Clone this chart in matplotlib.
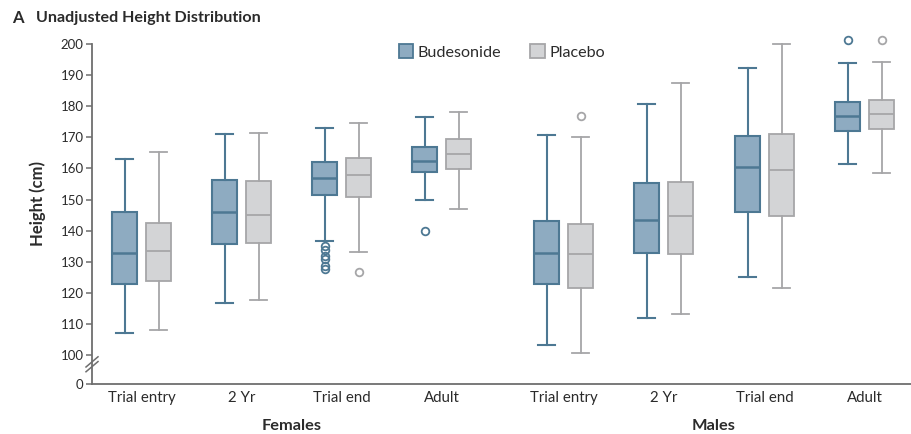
import numpy as np
import matplotlib
matplotlib.use("Agg")
import matplotlib.pyplot as plt
from matplotlib.patches import Patch

plt.rcParams['font.family'] = ['Lato', 'DejaVu Sans']

# Groups (x tick labels) and sexes
visits = ["Trial entry", "2 Yr", "Trial end", "Adult"]
sexes = ["Females", "Males"]

# Budesonide box stats, per visit (females then males)
bud_lo = [107.0, 116.7, 136.8, 149.8, 103.3, 111.9, 125.2, 161.3]
bud_q1 = [122.9, 135.8, 151.4, 158.7, 122.8, 132.9, 146.1, 172.0]
bud_med = [132.9, 146.1, 156.8, 162.5, 132.9, 143.5, 160.3, 177.0]
bud_q3 = [146.0, 156.4, 162.2, 166.8, 143.1, 155.4, 170.4, 181.2]
bud_hi = [163.0, 171.0, 172.9, 176.5, 170.7, 180.7, 192.2, 194.0]
bud_fliers = [[], [], [135.1, 133.7, 131.8, 130.8, 128.7, 127.6], [139.9],
              [], [], [], [201.3]]

# Placebo box stats
pla_lo = [108.0, 117.6, 133.0, 147.0, 100.5, 113.1, 121.5, 158.4]
pla_q1 = [123.7, 136.0, 150.7, 159.8, 121.4, 132.4, 144.8, 172.6]
pla_med = [133.3, 145.0, 157.9, 164.5, 132.4, 144.6, 159.5, 177.5]
pla_q3 = [142.3, 156.0, 163.5, 169.5, 142.0, 155.6, 171.2, 181.9]
pla_hi = [165.4, 171.4, 174.7, 178.0, 170.2, 187.6, 199.9, 194.1]
pla_fliers = [[], [], [126.6], [], [176.8], [], [], [201.3]]

BUD_FACE = "#8eabc1"
BUD_EDGE = "#4d7893"
PLA_FACE = "#d3d4d6"
PLA_EDGE = "#a6a6a8"
AXIS_COL = "#6e6e6e"
TEXT_COL = "#2b2b2b"

# broken y axis: 0-100 squeezed into a short stretch
SQUEEZE = 0.0932


def fwd(v):
    v = np.asarray(v, dtype=float)
    return np.where(v >= 100, v, 100 - (100 - v) * SQUEEZE)


def inv(u):
    u = np.asarray(u, dtype=float)
    return np.where(u >= 100, u, 100 - (100 - u) / SQUEEZE)


def make_stats(lo, q1, med, q3, hi, fl):
    return [dict(whislo=a, q1=b, med=c, q3=d, whishi=e, fliers=f)
            for a, b, c, d, e, f in zip(lo, q1, med, q3, hi, fl)]


fig = plt.figure(figsize=(9.11, 4.34), dpi=100)
ax = fig.add_axes([92 / 911, 50 / 434, 819 / 911, 340 / 434])
ax.set_yscale('function', functions=(fwd, inv))

centers = np.array([0, 1, 2, 3, 4.22, 5.22, 6.23, 7.23])
off = 0.17
bw = 0.25


def draw(stats, pos, face, edge, lw, mlw):
    parts = ax.bxp(stats, positions=pos, widths=bw, patch_artist=True,
                   showfliers=True, capwidths=0.17,
                   boxprops=dict(facecolor=face, edgecolor=edge, linewidth=lw),
                   medianprops=dict(color=edge, linewidth=mlw),
                   whiskerprops=dict(color=edge, linewidth=lw),
                   capprops=dict(color=edge, linewidth=lw),
                   flierprops=dict(marker='o', markerfacecolor='none',
                                   markeredgecolor=edge, markersize=5.5,
                                   markeredgewidth=1.3))
    for artists in parts.values():
        for a in artists:
            a.set_clip_on(False)


draw(make_stats(bud_lo, bud_q1, bud_med, bud_q3, bud_hi, bud_fliers),
     centers - off, BUD_FACE, BUD_EDGE, 1.5, 1.8)
draw(make_stats(pla_lo, pla_q1, pla_med, pla_q3, pla_hi, pla_fliers),
     centers + off, PLA_FACE, PLA_EDGE, 1.3, 1.3)

ax.set_xlim(-0.495, 7.695)
ax.set_ylim(0, 200)
ax.set_yticks([0] + list(range(100, 201, 10)))
ax.set_yticklabels(["0"] + [str(v) for v in range(100, 201, 10)])
ax.set_xticks(centers)
ax.set_xticklabels(visits * 2)

for s in ["top", "right"]:
    ax.spines[s].set_visible(False)
for s in ["left", "bottom"]:
    ax.spines[s].set_color(AXIS_COL)
    ax.spines[s].set_linewidth(1.3)
ax.tick_params(axis='y', length=4, width=1.1, color=AXIS_COL, pad=2,
               labelsize=9.5, labelcolor=TEXT_COL)
ax.tick_params(axis='x', length=0, pad=5, labelsize=10.8, labelcolor=TEXT_COL)

# break marks on the y axis (axes fraction, between 0 and 100)
dx = 6 / 819
for yb in [0.036, 0.050]:
    ax.plot([-dx, dx], [yb, yb + 0.03], color=AXIS_COL, lw=1.1,
            transform=ax.transAxes, clip_on=False)

# sex labels under the groups
for i, sx in enumerate(sexes):
    xc = centers[i * 4:(i + 1) * 4].mean()
    ax.text(xc, -0.125, sx, transform=ax.get_xaxis_transform(),
            ha='center', va='center', fontsize=11.8, fontweight='bold',
            color=TEXT_COL)

fig.text(38 / 911, 1 - 203 / 434, "Height (cm)", rotation=90, ha='center',
         va='center', fontsize=12, fontweight='bold', color=TEXT_COL)
fig.text(12 / 911, 1 - 18 / 434, "A", ha='left', va='center',
         fontsize=12, fontweight='bold', color=TEXT_COL)
fig.text(36 / 911, 1 - 18 / 434, "Unadjusted Height Distribution",
         ha='left', va='center', fontsize=11.6, fontweight='bold',
         color=TEXT_COL)

handles = [Patch(facecolor=BUD_FACE, edgecolor=BUD_EDGE, linewidth=1.3),
           Patch(facecolor=PLA_FACE, edgecolor=PLA_EDGE, linewidth=1.3)]
fig.legend(handles, ["Budesonide", "Placebo"], loc='center left',
           bbox_to_anchor=(384 / 911, 1 - 52 / 434), ncol=2, frameon=False,
           handlelength=0.9, handleheight=0.9, handletextpad=0.3,
           columnspacing=1.8, fontsize=11.6, labelcolor=TEXT_COL)

fig.savefig("out.png", dpi=100, facecolor="white")
